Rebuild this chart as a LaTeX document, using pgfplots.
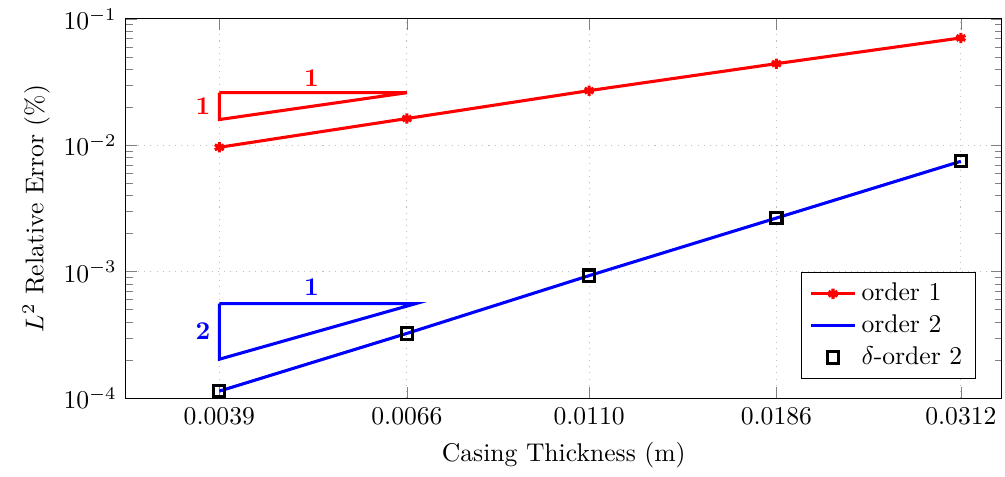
\documentclass[border=0pt]{standalone}
\usepackage{pgfplots}
\pgfplotsset{compat=1.18}
\begin{document}
\begin{tikzpicture}
\begin{loglogaxis}[
  scale only axis,
  width=342pt, height=148pt,
  xmin=0.003, xmax=0.035,
  ymin=1e-4, ymax=1e-1,
  xtick={0.0039,0.0066,0.0110,0.0186,0.0312},
  xticklabels={0.0039,0.0066,0.0110,0.0186,0.0312},
  ytick={1e-4,1e-3,1e-2,1e-1},
  minor tick num=0,
  minor xtick={}, minor ytick={},
  grid=major,
  major grid style={dotted, gray!50},
  xlabel={Casing Thickness (m)},
  ylabel={$L^2$ Relative Error (\%)},
  ylabel shift=-1.5pt,
  legend style={at={(0.97,0.05)}, anchor=south east, cells={anchor=west}},
]
\addplot[red, line width=1.2pt, mark=asterisk, mark size=2pt] coordinates {
 (0.0039,0.00965) (0.0066,0.0163) (0.0110,0.0271) (0.0186,0.0443) (0.0312,0.0708)};
\addlegendentry{order 1}
\addplot[blue, line width=1.2pt] coordinates {
 (0.0039,1.135e-4) (0.0066,3.25e-4) (0.0110,9.31e-4) (0.0186,2.66e-3) (0.0312,7.48e-3)};
\addlegendentry{order 2}
\addplot[only marks, black, mark=square, mark size=2.2pt, line width=1.2pt] coordinates {
 (0.0039,1.135e-4) (0.0066,3.25e-4) (0.0110,9.31e-4) (0.0186,2.66e-3) (0.0312,7.48e-3)};
\addlegendentry{$\delta$-order 2}
% slope triangles
\addplot[red, line width=1.2pt, forget plot] coordinates {
 (0.0039,0.0261) (0.0066,0.0261) (0.0039,0.016) (0.0039,0.0261)};
\addplot[blue, line width=1.2pt, forget plot] coordinates {
 (0.0039,5.6e-4) (0.00677,5.6e-4) (0.0039,2.03e-4) (0.0039,5.6e-4)};
\node[red, font=\bfseries] at (axis cs:0.00505,0.0338) {1};
\node[red, font=\bfseries, anchor=east] at (axis cs:0.0039,0.0205) {1};
\node[blue, font=\bfseries] at (axis cs:0.00505,7.5e-4) {1};
\node[blue, font=\bfseries, anchor=east] at (axis cs:0.0039,3.4e-4) {2};
\end{loglogaxis}
\path ([xshift=-5.5pt]current bounding box.west);
\end{tikzpicture}
\end{document}
